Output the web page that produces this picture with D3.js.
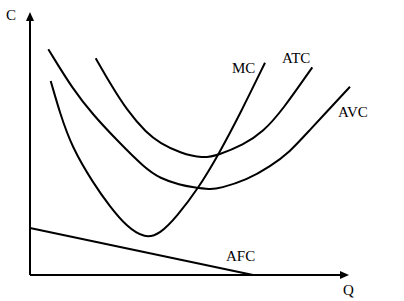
<!DOCTYPE html>
<html>
<head>
<meta charset="utf-8">
<script src="https://cdn.jsdelivr.net/npm/d3@7"></script>
<style>
  body { margin: 0; background: #fff; }
  text { font-family: "Liberation Serif", "Times New Roman", serif; font-size: 15px; fill: #000; }
</style>
</head>
<body>
<svg id="chart" width="404" height="301"></svg>
<script>
// cost curves (Q, C)
var mcPts  = [[0.647,7.462],[0.938,6.219],[1.303,4.935],[1.978,3.527],[2.500,2.627],[3.022,1.858],
              [3.594,1.400],[4.063,1.580],[4.584,2.242],[5.259,3.335],[5.884,4.615],[6.594,6.269],
              [7.344,8.165]];
var avcPts = [[0.572,8.681],[1.353,7.115],[1.978,6.154],[2.709,5.192],[3.594,4.104],[4.063,3.719],
              [4.688,3.462],[5.103,3.373],[5.625,3.290],[5.938,3.335],[6.772,3.654],[7.500,4.165],
              [8.125,4.742],[8.647,5.450],[10.0,7.242]];
var atcPts = [[2.053,8.335],[2.500,7.373],[3.022,6.346],[3.647,5.450],[4.063,5.077],[4.688,4.692],
              [5.406,4.480],[5.884,4.615],[6.666,5.000],[7.291,5.512],[7.891,6.346],[8.822,7.988]];
var afcPts = [[0,1.81],[6.97,0]];

var curveNames = ["MC", "ATC", "AVC", "AFC"];
var axisNames  = ["C", "Q"];

var svg = d3.select("#chart");

var x = d3.scaleLinear().domain([0, 10]).range([30, 350]);
var y = d3.scaleLinear().domain([0, 10]).range([275, 15]);

var line = d3.line()
    .x(function(d) { return x(d[0]); })
    .y(function(d) { return y(d[1]); })
    .curve(d3.curveBasis);

[mcPts, avcPts, atcPts, afcPts].forEach(function(pts){
    svg.append("path")
        .datum(pts)
        .attr("d", line)
        .attr("fill", "none")
        .attr("stroke", "#000")
        .attr("stroke-width", 2);
});

// axes
svg.append("line")
    .attr("x1", x(0)).attr("y1", y(0))
    .attr("x2", x(0)).attr("y2", 20)
    .attr("stroke", "#000").attr("stroke-width", 2);
svg.append("line")
    .attr("x1", x(0)).attr("y1", y(0))
    .attr("x2", 341).attr("y2", y(0))
    .attr("stroke", "#000").attr("stroke-width", 2);

// arrow heads
svg.append("path")
    .attr("d", "M" + x(0) + ",12 L" + (x(0) - 4) + ",21 L" + (x(0) + 4) + ",21 Z")
    .attr("fill", "#000");
svg.append("path")
    .attr("d", "M349," + y(0) + " L340," + (y(0) - 4) + " L340," + (y(0) + 4) + " Z")
    .attr("fill", "#000");

// labels
var labelPos = [[232, 73], [282, 63], [338, 117], [226, 261]];
curveNames.forEach(function(name, i){
    svg.append("text")
        .attr("x", labelPos[i][0])
        .attr("y", labelPos[i][1])
        .text(name);
});

svg.append("text").attr("x", 6).attr("y", 20).text(axisNames[0]);
svg.append("text").attr("x", 343).attr("y", 295).text(axisNames[1]);
</script>
</body>
</html>
